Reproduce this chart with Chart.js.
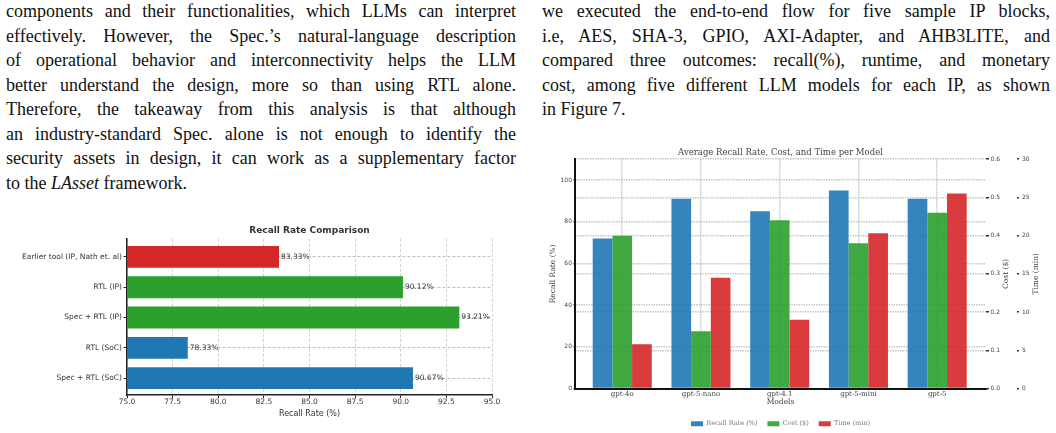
<!DOCTYPE html>
<html>
<head>
<meta charset="utf-8">
<script src="https://cdn.jsdelivr.net/npm/chart.js@4"></script>
<style>
  html, body { margin: 0; padding: 0; background: #fff; }
  body { width: 1056px; height: 433px; position: relative; overflow: hidden; }
  .col { position: absolute; top: -1px; font-family: "Liberation Serif", serif; font-size: 18px; line-height: 24.5px; color: #111; }
  .col div { text-align: justify; text-align-last: justify; }
  .col div.last { text-align-last: left; }
  #left-text { left: 6px; width: 510px; }
  #right-text { left: 542px; width: 508px; }
  .box { position: absolute; }
  #recall-box { left: 0; top: 215px; width: 510px; height: 218px; }
  #models-box { left: 540px; top: 140px; width: 516px; height: 293px; }
</style>
</head>
<body>
<div class="col" id="left-text">
  <div>components and their functionalities, which LLMs can interpret</div>
  <div>effectively. However, the Spec.’s natural-language description</div>
  <div>of operational behavior and interconnectivity helps the LLM</div>
  <div>better understand the design, more so than using RTL alone.</div>
  <div>Therefore, the takeaway from this analysis is that although</div>
  <div>an industry-standard Spec. alone is not enough to identify the</div>
  <div>security assets in design, it can work as a supplementary factor</div>
  <div class="last">to the <i>LAsset</i> framework.</div>
</div>
<div class="col" id="right-text">
  <div>we executed the end-to-end flow for five sample IP blocks,</div>
  <div>i.e, AES, SHA-3, GPIO, AXI-Adapter, and AHB3LITE, and</div>
  <div>compared three outcomes: recall(%), runtime, and monetary</div>
  <div>cost, among five different LLM models for each IP, as shown</div>
  <div class="last">in Figure 7.</div>
</div>
<div class="box" id="recall-box"><canvas id="recall-chart"></canvas></div>
<div class="box" id="models-box"><canvas id="models-chart"></canvas></div>

<script>
// left chart data
const setups = ["Earlier tool (IP, Nath et. al)", "RTL (IP)", "Spec + RTL (IP)", "RTL (SoC)", "Spec + RTL (SoC)"];
const setupRecall = [83.33, 90.12, 93.21, 78.33, 90.67];
const setupColors = ["#d62728", "#2ca02c", "#2ca02c", "#1f77b4", "#1f77b4"];

// right chart data
const models = ["gpt-4o", "gpt-5-nano", "gpt-4.1", "gpt-5-mini", "gpt-5"];
const recallRate = [72, 91, 85, 95, 91];
const costUsd = [0.40, 0.15, 0.44, 0.38, 0.46];
const timeMin = [5.8, 14.5, 9.0, 20.3, 25.5];

const sans = "DejaVu Sans";
const serif = "DejaVu Serif";

const valueLabels = {
	id: "valueLabels",
	afterDatasetsDraw(chart) {
		const ctx = chart.ctx;
		const meta = chart.getDatasetMeta(0);
		ctx.save();
		ctx.font = `7.5px "${sans}"`;
		ctx.fillStyle = "#333";
		ctx.textBaseline = "middle";
		meta.data.forEach((bar, i) => {
			ctx.fillText(setupRecall[i].toFixed(2) + "%", bar.x + 2, bar.y);
		});
		ctx.restore();
	},
};

new Chart(document.getElementById("recall-chart"), {
	type: "bar",
	plugins: [valueLabels],
	data: {
		datasets: [{
			data: setups.map((s, i) => ({ x: setupRecall[i], y: i })),
			backgroundColor: setupColors,
			barPercentage: 0.9,
			categoryPercentage: 0.8,
		}],
	},
	options: {
		indexAxis: "y",
		responsive: true,
		maintainAspectRatio: false,
		animation: false,
		layout: { padding: { left: 0, right: 18, top: 0, bottom: 0 } },
		plugins: {
			legend: { display: false },
			tooltip: { enabled: false },
			title: {
				display: true,
				fullSize: false,
				text: "Recall Rate Comparison",
				color: "#333",
				font: { family: sans, size: 9, weight: "bold" },
				padding: { top: 10, bottom: 3 },
			},
		},
		scales: {
			x: {
				type: "linear",
				min: 75,
				max: 95,
				afterFit: s => { s.height = 38; },
				ticks: {
					stepSize: 2.5,
					padding: 0,
					color: "#333",
					font: { family: sans, size: 7.5 },
					callback: v => v.toFixed(1),
				},
				grid: {
					color: "rgba(200,200,200,0.8)",
					tickLength: 3,
					tickColor: "#222",
				},
				border: { display: true, color: "#222", width: 1.5, dash: [3, 2] },
				title: {
					display: true,
					text: "Recall Rate (%)",
					color: "#333",
					font: { family: sans, size: 8 },
					padding: { top: 0, bottom: 14 },
				},
			},
			y: {
				type: "linear",
				reverse: true,
				offset: false,
				min: -0.6,
				max: 4.56,
				z: 1,
				afterBuildTicks: s => { s.ticks = setups.map((_, i) => ({ value: i })); },
				afterFit: s => { s.width = 127; },
				ticks: {
					padding: 1.5,
					color: "#333",
					font: { family: sans, size: 7.5 },
					callback: v => setups[v],
				},
				grid: {
					offset: false,
					color: "rgba(170,170,170,0.75)",
					tickLength: 3.5,
					tickColor: "#222",
				},
				border: { display: true, color: "#222", width: 1.5, dash: [3, 2] },
			},
		},
	},
});

// right-side axis titles, drawn bottom-to-top like the left one
const sideTitles = {
	id: "sideTitles",
	afterDraw(chart) {
		const ctx = chart.ctx;
		[["y1", 10.5], ["y2", 20]].forEach(([id, inset]) => {
			const s = chart.scales[id];
			ctx.save();
			ctx.font = `7.5px "${serif}"`;
			ctx.fillStyle = "#444";
			ctx.textAlign = "center";
			ctx.textBaseline = "middle";
			ctx.translate(s.right - inset, (s.top + s.bottom) / 2);
			ctx.rotate(-Math.PI / 2);
			ctx.fillText(s.options.title.text, 0, 0);
			ctx.restore();
		});
	},
};

const dottedGrid = { color: "rgba(185,185,185,0.8)", lineWidth: 1.5 };
const dottedDash = [1.5, 1];

const series = [
	{ label: "Recall Rate (%)", values: recallRate, color: "rgba(31,119,180,0.9)", axis: "y" },
	{ label: "Cost ($)", values: costUsd, color: "rgba(44,160,44,0.9)", axis: "y1" },
	{ label: "Time (min)", values: timeMin, color: "rgba(214,39,40,0.9)", axis: "y2" },
];

new Chart(document.getElementById("models-chart"), {
	type: "bar",
	plugins: [sideTitles],
	data: {
		datasets: series.map(d => ({
			label: d.label,
			data: models.map((m, i) => ({ x: i, y: d.values[i] })),
			backgroundColor: d.color,
			yAxisID: d.axis,
			barPercentage: 1.0,
			categoryPercentage: 0.75,
		})),
	},
	options: {
		responsive: true,
		maintainAspectRatio: false,
		animation: false,
		layout: { padding: { left: 0, right: 0, top: 0, bottom: -4 } },
		plugins: {
			tooltip: { enabled: false },
			title: {
				display: true,
				fullSize: false,
				text: "Average Recall Rate, Cost, and Time per Model",
				color: "#444",
				font: { family: serif, size: 8.5, weight: "normal" },
				padding: { top: 8, bottom: 1 },
			},
			legend: {
				position: "bottom",
				fullSize: false,
				labels: {
					boxWidth: 12,
					boxHeight: 5,
					padding: 10,
					color: "#777",
					font: { family: serif, size: 6.5 },
				},
			},
		},
		scales: {
			x: {
				type: "linear",
				offset: false,
				min: -0.6,
				max: 4.62,
				afterBuildTicks: s => { s.ticks = models.map((_, i) => ({ value: i })); },
				afterFit: s => { s.height = 22; },
				ticks: {
					padding: 1,
					color: "#444",
					font: { family: serif, size: 7 },
					callback: v => models[v],
				},
				grid: { ...dottedGrid, offset: false, drawTicks: false },
				border: { display: true, color: "#111", width: 2, dash: dottedDash },
				title: {
					display: true,
					text: "Models",
					color: "#444",
					font: { family: serif, size: 7.5 },
					padding: { top: 0, bottom: 4.25 },
				},
			},
			y: {
				position: "left",
				min: 0,
				max: 110,
				afterFit: s => { s.width = 35; },
				ticks: {
					stepSize: 20,
					includeBounds: false,
					padding: 1.5,
					color: "#444",
					font: { family: sans, size: 6 },
				},
				grid: { ...dottedGrid, tickLength: 1.5, tickColor: "#333" },
				border: { display: true, color: "#111", width: 2, dash: dottedDash },
				title: {
					display: true,
					text: "Recall Rate (%)",
					color: "#444",
					font: { family: serif, size: 7.5 },
					padding: { top: 9, bottom: 0 },
				},
			},
			y1: {
				position: "right",
				weight: 0,
				min: 0,
				max: 0.6,
				afterFit: s => { s.width = 31; },
				ticks: {
					stepSize: 0.1,
					padding: 1.5,
					color: "#444",
					font: { family: sans, size: 6 },
					callback: v => v.toFixed(1),
				},
				grid: { ...dottedGrid, tickLength: 3, tickColor: "#333" },
				border: { display: false, dash: dottedDash },
				title: { display: false, text: "Cost ($)" },
			},
			y2: {
				position: "right",
				weight: 1,
				min: 0,
				max: 30,
				afterFit: s => { s.width = 39; },
				ticks: {
					stepSize: 5,
					padding: 3,
					color: "#444",
					font: { family: sans, size: 6 },
				},
				grid: { drawOnChartArea: false, tickLength: 2, tickColor: "#333", lineWidth: 1.5 },
				border: { display: false },
				title: { display: false, text: "Time (min)" },
			},
		},
	},
});
</script>
</body>
</html>
